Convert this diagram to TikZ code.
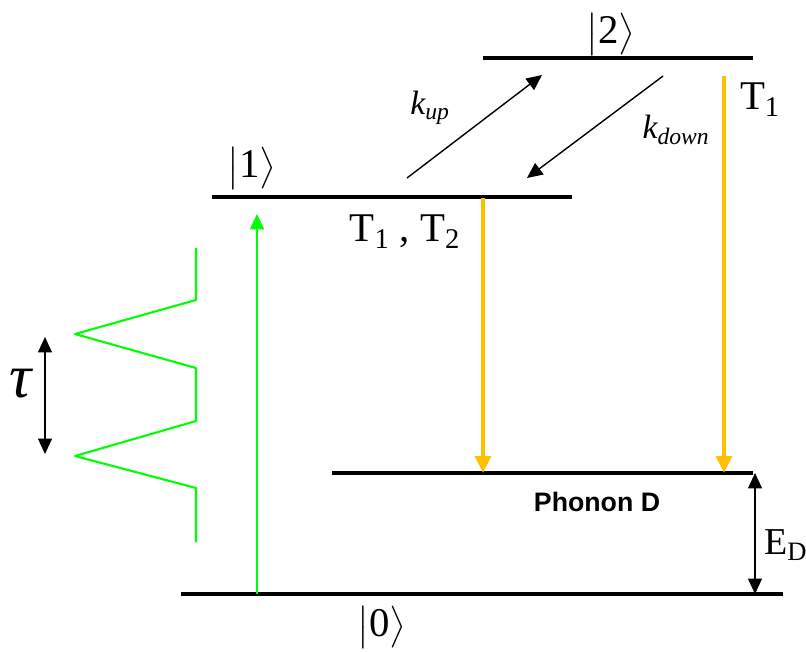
\documentclass[tikz,border=0pt]{standalone}
\usepackage{amsmath}
\usepackage{fontspec}
\setmainfont{Liberation Serif}
\newfontfamily\labelsans{Liberation Sans}
\usetikzlibrary{arrows.meta}
\definecolor{pulsegreen}{RGB}{0,255,0}
\definecolor{decaygold}{RGB}{255,192,0}
\newcommand{\stateket}[1]{$\bigl|\text{#1}\bigr\rangle$}
\tikzset{
  level/.style={line width=3pt},
  rate/.style={->,line width=1pt},
  decay/.style={-{Triangle[length=12pt,width=11pt]},decaygold,line width=3pt},
  bigtext/.style={font=\fontsize{29}{34}\selectfont},
  ktext/.style={font=\fontsize{24}{28}\selectfont},
  ketlabel/.style={bigtext,anchor=base,inner sep=0pt}
}
\begin{document}
\begin{tikzpicture}[x=0.025cm,y=-0.025cm,>={Triangle[length=11pt,width=10pt]}, line join=round]
			\useasboundingbox (0,0) rectangle (806,651);
			% levels
			\coordinate (g0w) at (181,594); \coordinate (g0e) at (783,594);
			\coordinate (dw) at (332,473); \coordinate (de) at (753,473);
			\coordinate (e1w) at (212,197); \coordinate (e1e) at (572,197);
			\coordinate (e2w) at (483,58); \coordinate (e2e) at (753,58);
			\draw[level] (g0w)--(g0e);
			\draw[level] (dw)--(de);
			\draw[level] (e1w)--(e1e);
			\draw[level] (e2w)--(e2e);
			\node[ketlabel] (ket0) at (382,636) {\stateket{0}};
			\node[ketlabel] (ket1) at (252,177) {\stateket{1}};
			\node[ketlabel] (ket2) at (611,43) {\stateket{2}};
			% transfer between 1 and 2
			\coordinate (upa) at (407,178); \coordinate (upb) at (542,75);
			\coordinate (dna) at (663,76); \coordinate (dnb) at (527,178);
			\draw[rate] (upa)--(upb);
			\draw[rate] (dna)--(dnb);
			\node[ktext] (kup) at (430,108) {$\textit{k}_{\textit{up}}$};
			\node[ktext] (kdown) at (676,130) {$\textit{k}_{\textit{down}}$};
			% decays
			\coordinate (t1a) at (483,198); \coordinate (t1b) at (483,473);
			\coordinate (t2a) at (724,76); \coordinate (t2b) at (724,473);
			\draw[decay] (t1a)--(t1b);
			\draw[decay] (t2a)--(t2b);
			\node[bigtext] (t12) at (405,232) {$\text{T}_{\text{1}}$ , $\text{T}_{\text{2}}$};
			\node[bigtext] (t1) at (760,100) {$\text{T}_{\text{1}}$};
			\node[font=\labelsans\bfseries\fontsize{19}{22}\selectfont] (phonon) at (597,502) {Phonon D};
			\coordinate (eda) at (755,473); \coordinate (edb) at (755,594);
			\draw[<->,line width=0.8pt] (eda)--(edb);
			\node[font=\fontsize{27}{32}\selectfont,anchor=west,inner sep=0pt] (ed) at (764,545) {E$_{\text{D}}$};
			% pump and pulse train
			\coordinate (pa) at (257,594); \coordinate (pb) at (257,214);
			\draw[->,pulsegreen,line width=1.5pt] (pa)--(pb);
			\draw[pulsegreen,line width=1.5pt] (196,248)--(196,300)--(75,334)--(196,368)--(196,421)--(75,456)--(196,488)--(196,542);
			\coordinate (taua) at (45,337); \coordinate (taub) at (45,454);
			\draw[<->,line width=0.8pt] (taua)--(taub);
			\node[font=\fontsize{44}{48}\selectfont] (tau) at (22,384) {\textit{τ}};
		\end{tikzpicture}
\end{document}
